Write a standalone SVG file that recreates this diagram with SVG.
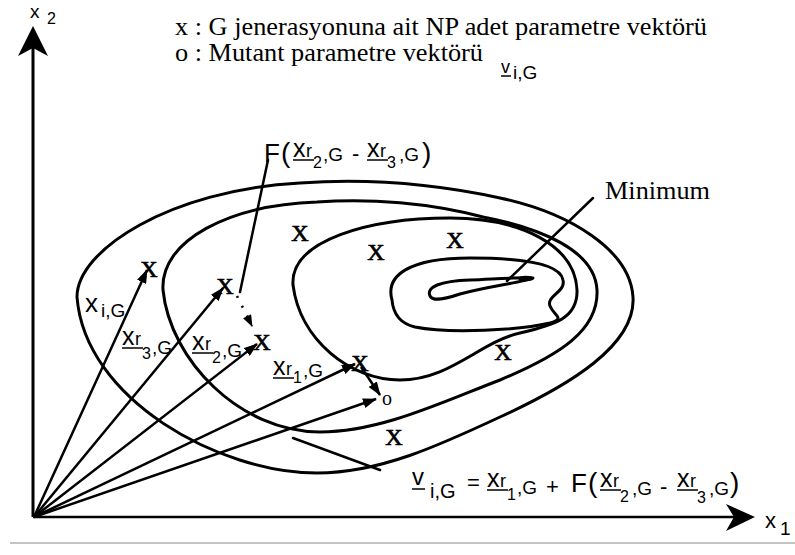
<svg xmlns="http://www.w3.org/2000/svg" width="795" height="555" viewBox="0 0 795 555">
<defs>
<style>
.serif{font-family:"Liberation Serif","Times New Roman",serif;fill:#000}
.sans{font-family:"Liberation Sans",Arial,sans-serif;fill:#000}
.mk{font-family:"Liberation Serif","Times New Roman",serif;font-size:24px;text-anchor:middle;fill:#000;stroke:#000;stroke-width:0.7}
.contour{fill:none;stroke:#000;stroke-width:3;stroke-linecap:round;stroke-linejoin:round}
.vec{fill:none;stroke:#000;stroke-width:2.5;marker-end:url(#ah)}
.line{fill:none;stroke:#000;stroke-width:2.5;stroke-linecap:round}
.ul{stroke:#000;stroke-width:1.5}
</style>
<marker id="ah" markerUnits="userSpaceOnUse" markerWidth="14" markerHeight="10" refX="13" refY="5" orient="auto"><path d="M0,0 L14,5 L0,10 Z" fill="#000"/></marker>
<marker id="ah2" markerUnits="userSpaceOnUse" markerWidth="12" markerHeight="9" refX="11" refY="4.5" orient="auto"><path d="M0,0 L12,4.5 L0,9 Z" fill="#000"/></marker>
</defs>
<rect width="795" height="555" fill="#fff"/>

<g id="axes">
<line x1="33" y1="517" x2="33" y2="46" stroke="#000" stroke-width="3"/>
<polygon points="33,26 48,56 33,48 18,56" fill="#000"/>
<line x1="33" y1="517" x2="738" y2="517" stroke="#000" stroke-width="2.5"/>
<polygon points="755,517 726,504 734,517 726,531" fill="#000"/>
<text class="sans" x="30" y="18" font-size="19">x</text>
<text class="sans" x="47" y="24" font-size="16">2</text>
<text class="sans" x="765" y="528" font-size="22">x</text>
<text class="sans" x="780" y="535" font-size="19">1</text>
<line x1="10" y1="543" x2="795" y2="543" stroke="#c4c4c4" stroke-width="2"/>
</g>

<g id="legend">
<text class="serif" x="175" y="35" font-size="25" textLength="532" lengthAdjust="spacingAndGlyphs">x : G jenerasyonuna ait NP adet parametre vektörü</text>
<text class="serif" x="175" y="61" font-size="25" textLength="308" lengthAdjust="spacingAndGlyphs">o : Mutant parametre vektörü</text>
<text class="sans" x="501" y="73" font-size="18">v</text>
<line class="ul" x1="501" y1="76" x2="511" y2="76"/>
<text class="sans" x="513" y="79" font-size="19">i,G</text>
</g>

<g id="contours">
<path class="contour" d="M77,297 C77,250 170,190 300,183 C370,178 440,185 500,198 C570,213 630,250 633,297 C636,345 570,385 500,417 C440,445 380,473 317,473 C220,473 85,400 77,297 Z"/>
<path class="contour" d="M163,290 C160,240 230,205 317,202 C370,198 430,203 483,217 C540,228 595,250 597,290 C599,330 560,355 500,380 C440,403 380,432 320,432 C240,432 170,360 163,290 Z"/>
<path class="contour" d="M293,285 C290,240 370,218 450,218 C520,218 575,245 577,290 C578,318 555,325 520,333 C480,342 450,380 400,380 C350,380 300,340 293,285 Z"/>
<path class="contour" d="M392,300 C385,275 410,258 470,258 C515,258 560,262 563,280 C566,292 546,296 550,306 C554,316 566,318 550,323 C520,330 450,334 415,327 C398,323 393,312 392,300 Z"/>
<path class="contour" stroke-width="2.5" d="M430,296 C426,287 440,281 470,280 C495,279 520,277 533,278 C525,282 490,286 460,294 C445,299 433,302 430,296 Z"/>
<ellipse cx="526" cy="278.5" rx="8" ry="2.8" fill="#000"/>
</g>

<g id="connectors">
<line class="vec" x1="34" y1="517" x2="147" y2="270"/>
<line class="vec" x1="34" y1="517" x2="223" y2="288"/>
<line class="vec" x1="34" y1="517" x2="257" y2="344"/>
<line class="vec" x1="34" y1="517" x2="355" y2="364"/>
<line class="vec" x1="34" y1="517" x2="376" y2="399"/>
<line class="vec" x1="361" y1="367" x2="380" y2="395"/>
<line x1="237" y1="296" x2="252" y2="326" stroke="#000" stroke-width="2.5" stroke-dasharray="2 9" marker-end="url(#ah2)"/>
<line class="line" x1="268" y1="160" x2="240" y2="292"/>
<line class="line" x1="593" y1="198" x2="507" y2="281"/>
<line class="line" x1="293" y1="438" x2="380" y2="470"/>
</g>

<g id="points">
<text class="mk" x="149" y="277">X</text>
<text class="mk" x="225" y="294">X</text>
<text class="mk" x="262" y="350">X</text>
<text class="mk" x="360" y="371">X</text>
<text class="mk" x="300" y="241">X</text>
<text class="mk" x="376" y="260">X</text>
<text class="mk" x="455" y="248">X</text>
<text class="mk" x="503" y="360">X</text>
<text class="mk" x="394" y="445">X</text>
<text class="serif" x="387" y="405" font-size="20" text-anchor="middle">o</text>
</g>

<g id="label-minimum">
<text class="serif" x="605" y="199" font-size="25" textLength="105" lengthAdjust="spacingAndGlyphs">Minimum</text>
</g>

<g id="label-xi">
<text class="sans" x="85" y="312" font-size="26">x</text>
<text class="sans" x="101" y="317" font-size="19">i,G</text>
</g>

<g id="label-xr3">
<text class="sans" x="122" y="345" font-size="25">x</text>
<text class="sans" x="135" y="345" font-size="18">r</text>
<text class="sans" x="142" y="359" font-size="16">3</text>
<text class="sans" x="152" y="354" font-size="19">,G</text>
<line class="ul" x1="122" y1="348" x2="143" y2="348"/>
</g>

<g id="label-xr2">
<text class="sans" x="192" y="350" font-size="25">x</text>
<text class="sans" x="205" y="350" font-size="18">r</text>
<text class="sans" x="212" y="363" font-size="16">2</text>
<text class="sans" x="222" y="357" font-size="19">,G</text>
<line class="ul" x1="192" y1="353" x2="213" y2="353"/>
</g>

<g id="label-xr1">
<text class="sans" x="273" y="375" font-size="25">x</text>
<text class="sans" x="286" y="375" font-size="18">r</text>
<text class="sans" x="293" y="383" font-size="16">1</text>
<text class="sans" x="303" y="377" font-size="19">,G</text>
<line class="ul" x1="273" y1="378" x2="294" y2="378"/>
</g>

<g id="label-F">
<text class="sans" x="264" y="162" font-size="26">F</text>
<text class="sans" x="281" y="162" font-size="28">(</text>
<text class="sans" x="293" y="157" font-size="25">x</text>
<text class="sans" x="306" y="157" font-size="18">r</text>
<text class="sans" x="313" y="168" font-size="16">2</text>
<text class="sans" x="323" y="161" font-size="19">,G</text>
<line class="ul" x1="293" y1="160" x2="314" y2="160"/>
<text class="sans" x="352" y="161" font-size="22">-</text>
<text class="sans" x="367" y="157" font-size="25">x</text>
<text class="sans" x="380" y="157" font-size="18">r</text>
<text class="sans" x="387" y="168" font-size="16">3</text>
<text class="sans" x="399" y="161" font-size="19">,G</text>
<line class="ul" x1="367" y1="160" x2="388" y2="160"/>
<text class="sans" x="422" y="162" font-size="28">)</text>
</g>

<g id="label-formula">
<text class="sans" x="412" y="485" font-size="24">v</text>
<line class="ul" x1="412" y1="489" x2="425" y2="489"/>
<text class="sans" x="430" y="498" font-size="20">i,G</text>
<text class="sans" x="467" y="490" font-size="22">=</text>
<text class="sans" x="487" y="487" font-size="25">x</text>
<text class="sans" x="500" y="487" font-size="18">r</text>
<text class="sans" x="507" y="500" font-size="16">1</text>
<text class="sans" x="517" y="494" font-size="19">,G</text>
<line class="ul" x1="487" y1="490" x2="508" y2="490"/>
<text class="sans" x="546" y="494" font-size="22">+</text>
<text class="sans" x="571" y="492" font-size="26">F</text>
<text class="sans" x="588" y="492" font-size="28">(</text>
<text class="sans" x="600" y="487" font-size="25">x</text>
<text class="sans" x="613" y="487" font-size="18">r</text>
<text class="sans" x="620" y="502" font-size="16">2</text>
<text class="sans" x="632" y="495" font-size="19">,G</text>
<line class="ul" x1="600" y1="490" x2="621" y2="490"/>
<text class="sans" x="660" y="494" font-size="22">-</text>
<text class="sans" x="677" y="487" font-size="25">x</text>
<text class="sans" x="690" y="487" font-size="18">r</text>
<text class="sans" x="697" y="503" font-size="16">3</text>
<text class="sans" x="709" y="495" font-size="19">,G</text>
<line class="ul" x1="677" y1="490" x2="698" y2="490"/>
<text class="sans" x="730" y="492" font-size="28">)</text>
</g>
</svg>
